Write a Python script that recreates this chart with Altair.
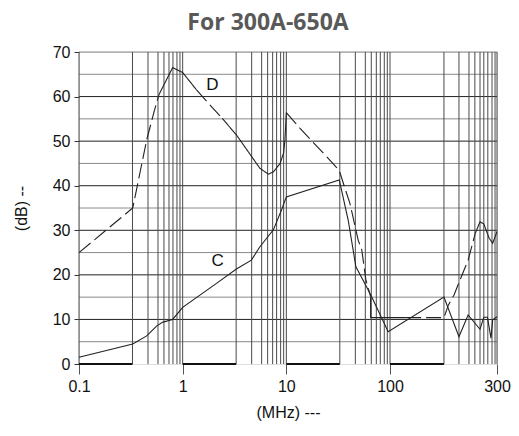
import altair as alt
import pandas as pd

# ---- data ----
D_freq = [0.1, 0.33, 0.45, 0.53, 0.59,
          0.59, 0.8, 1.0, 1.36,
          1.36, 2.1, 2.41,
          2.41, 3.3, 5.56, 6.7, 7.5, 8.7, 9.4, 9.7, 10.0,
          10.0, 13.5, 24.5, 32.4, 38.1, 41.0, 49.3, 53.4, 58.6, 65.0,
          65.0, 65.0, 100.0, 118.0,
          118.0, 174.0, 182.0, 193.0, 205.0, 223.0, 240.0,
          240.0, 252.0, 262.0, 277.0, 287.0, 300.0]
D_db = [25, 35, 50.3, 56.6, 60.4,
        60.4, 66.5, 65.4, 61.5,
        61.5, 56.6, 55.1,
        55.1, 51.4, 43.9, 42.6, 43.1, 45.0, 47.3, 50.3, 56.4,
        56.4, 52.9, 46.5, 43.4, 38.3, 36.1, 27.8, 25.6, 18.8, 15.1,
        15.1, 10.4, 10.4, 10.4,
        10.4, 10.4, 13.2, 15.5, 18.8, 23.3, 29.3,
        29.3, 31.9, 31.4, 28.2, 27.1, 29.7]
D_seg = [0]*5 + [1]*4 + [2]*3 + [3]*9 + [4]*10 + [5]*4 + [6]*7 + [7]*6
D_seg_style = ["dashed", "solid", "dashed", "solid", "dashed", "solid", "dashed", "solid"]

C_freq = [0.1, 0.33, 0.45, 0.56, 0.645, 0.8, 1.0, 2.12, 3.3, 4.6, 5.56, 7.5, 9.0, 10.0,
          32.4, 39.5, 46.9, 59.5, 66.5, 96, 174, 203, 223, 252, 262, 272, 282, 287, 300]
C_db = [1.5, 4.5, 6.3, 8.5, 9.4, 10.0, 12.7, 18.1, 21.3, 23.3, 26.3, 30.1, 34.6, 37.5,
        41.3, 32.3, 21.8, 17.3, 15.1, 7.25, 15.0, 6.1, 11.0, 7.8, 10.5, 10.5, 5.8, 9.9, 10.6]

x_ticks = [0.1, 1, 10, 100, 300]
y_ticks = [0, 10, 20, 30, 40, 50, 60, 70]

vgrid = [0.1, 0.328, 0.463, 0.578, 0.66, 0.738, 0.806, 0.881, 0.942,
         1, 3.28, 4.63, 5.78, 6.6, 7.38, 8.06, 8.81, 9.42,
         10, 32.8, 46.3, 57.8, 66, 73.8, 80.6, 88.1, 94.2,
         100, 174, 203, 225, 239, 252, 262, 273, 285, 294, 300]
hgrid_major = [10, 20, 30, 40, 50, 60]
hgrid_minor = [5, 15, 25, 35, 45, 55, 65, 70]
base_start = [0.1, 1, 10, 100]
base_end = [0.328, 3.28, 32.8, 174]

labels = ["D", "C"]
label_freq = [1.94, 2.17]
label_db = [62.5, 23.0]

# ---- tables ----
d_df = pd.DataFrame({"f": D_freq, "db": D_db, "seg": D_seg})
d_df["style"] = [D_seg_style[s] for s in D_seg]
d_df["i"] = range(len(d_df))
c_df = pd.DataFrame({"f": C_freq, "db": C_db})
c_df["i"] = range(len(c_df))
vg_df = pd.DataFrame({"f": vgrid})
hg_df = pd.DataFrame({"db": hgrid_major + hgrid_minor,
                      "kind": ["major"] * len(hgrid_major) + ["minor"] * len(hgrid_minor)})
base_df = pd.DataFrame({"f": base_start, "f2": base_end, "db": [0] * len(base_start)})
lab_df = pd.DataFrame({"t": labels, "f": label_freq, "db": label_db})

x_scale = alt.Scale(type="log", domain=[0.1, 100, 300], range=[0, 311, 418], nice=False)
y_scale = alt.Scale(domain=[0, 70], nice=False, zero=False)

x_axis = alt.Axis(values=x_ticks, format="~g", grid=False, domain=False, tickSize=10,
                  tickColor="#555", labelFont="Liberation Sans", labelFontSize=16,
                  labelColor="#111", labelPadding=4, labelFlush=False,
                  title="(MHz) ---", titleFont="Liberation Sans", titleFontSize=16,
                  titleFontWeight="normal", titleColor="#111", titlePadding=10)
y_axis = alt.Axis(values=y_ticks, grid=False, domain=False, tickSize=5, tickColor="#333",
                  labelFont="Liberation Sans", labelFontSize=16, labelColor="#111",
                  labelPadding=4, title="(dB) --", titleFont="Liberation Sans",
                  titleFontSize=16, titleFontWeight="normal", titleColor="#111",
                  titlePadding=23)

X = lambda fld="f": alt.X(f"{fld}:Q", scale=x_scale, axis=x_axis)
Y = lambda fld="db": alt.Y(f"{fld}:Q", scale=y_scale, axis=y_axis)

hgrid_layer = alt.Chart(hg_df).mark_rule(strokeWidth=1).encode(
    y=Y(),
    color=alt.Color("kind:N", scale=alt.Scale(domain=["major", "minor"], range=["#222", "#8a8a8a"]),
                    legend=None),
)
vgrid_layer = alt.Chart(vg_df).mark_rule(strokeWidth=1, color="#4a4a4a").encode(x=X())
base_layer = alt.Chart(base_df).mark_rule(strokeWidth=2.2, color="#111").encode(
    x=X(), x2="f2:Q", y=Y()
)
d_layer = alt.Chart(d_df).mark_line(strokeWidth=1.1, color="#222").encode(
    x=X(), y=Y(),
    detail="seg:N",
    strokeDash=alt.StrokeDash("style:N", scale=alt.Scale(domain=["solid", "dashed"],
                                                         range=[[1, 0], [15, 5]]), legend=None),
    order="i:Q",
)
c_layer = alt.Chart(c_df).mark_line(strokeWidth=1.1, color="#222").encode(
    x=X(), y=Y(), order="i:Q"
)
text_layer = alt.Chart(lab_df).mark_text(font="Liberation Sans", fontSize=17, color="#111",
                                         align="center", baseline="middle").encode(
    x=X(), y=Y(), text="t:N"
)

chart = alt.layer(hgrid_layer, vgrid_layer, base_layer, d_layer, c_layer, text_layer).properties(
    width=418, height=312,
    title=alt.Title("For 300A-650A", font="Open Sans", fontSize=23, fontWeight="bold",
                    color="#595959", anchor="middle", dx=-20, offset=9),
    autosize=alt.AutoSizeParams(type="none"),
    padding={"left": 71, "top": 44, "right": 14, "bottom": 64},
).configure_view(stroke=None).configure(background="white")

chart.save("out.html", embed_options={"renderer": "svg", "actions": False})
